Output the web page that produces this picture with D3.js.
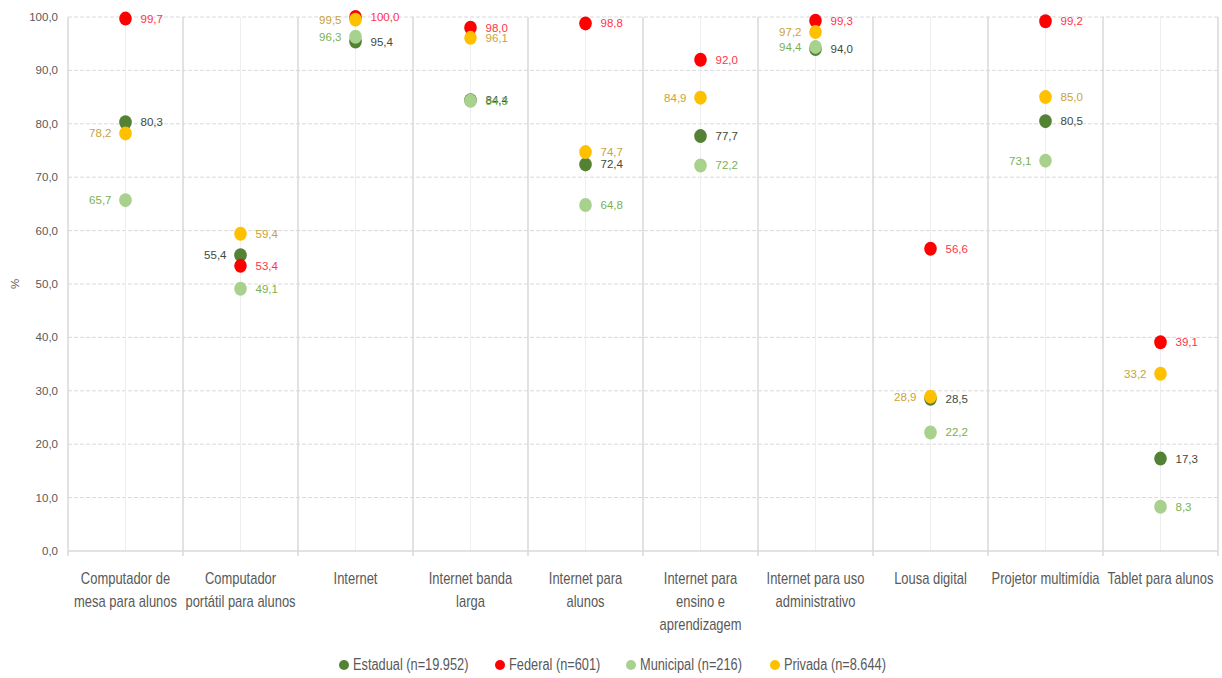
<!DOCTYPE html>
<html>
<head>
<meta charset="utf-8">
<script src="https://cdn.jsdelivr.net/npm/d3@7/dist/d3.min.js"></script>
<style>
body { margin: 0; background: #fff; }
svg { display: block; }
</style>
</head>
<body>
<svg id="chart" width="1222" height="678"></svg>
<script>
const categories = [
    "Computador de\nmesa para alunos",
    "Computador\nportátil para alunos",
    "Internet",
    "Internet banda\nlarga",
    "Internet para\nalunos",
    "Internet para\nensino e\naprendizagem",
    "Internet para uso\nadministrativo",
    "Lousa digital",
    "Projetor multimídia",
    "Tablet para alunos"
]

const seriesNames = ["Estadual (n=19.952)", "Federal (n=601)", "Municipal (n=216)", "Privada (n=8.644)"]

const estadual = [80.3, 55.4, 95.4, 84.4, 72.4, 77.7, 94.0, 28.5, 80.5, 17.3]
const federal = [99.7, 53.4, 100.0, 98.0, 98.8, 92.0, 99.3, 56.6, 99.2, 39.1]
const municipal = [65.7, 49.1, 96.3, 84.3, 64.8, 72.2, 94.4, 22.2, 73.1, 8.3]
const privada = [78.2, 59.4, 99.5, 96.1, 74.7, 84.9, 97.2, 28.9, 85.0, 33.2]

const yTicks = [0, 10, 20, 30, 40, 50, 60, 70, 80, 90, 100]

// which labels sit on the left of their dot: [series index, category index]
const leftLabels = [[2, 0], [3, 0], [0, 1], [2, 2], [3, 2], [3, 5], [2, 6], [3, 6], [3, 7], [2, 8], [3, 9]]

const dotColors = ["#548235", "#ff0000", "#a9d18e", "#ffc000"]
const labelColors = ["#3f4a3c", "#ff3347", "#79b152", "#c9a23a"]

const values = [estadual, federal, municipal, privada]

// no narrow font installed, so squeeze a regular one
const narrow = 0.82
const sans = "Liberation Sans, Arial, sans-serif"

const svg = d3.select("#chart")

const x = d3.scaleBand()
    .domain(d3.range(categories.length))
    .range([68, 1218])
    .padding(0)

const y = d3.scaleLinear()
    .domain([0, 100])
    .range([551, 17])

const fmt = v => d3.format(".1f")(v).replace(".", ",")

// horizontal gridlines
svg.append("g")
    .selectAll("line")
    .data(yTicks.filter(t => t > 0))
    .join("line")
        .attr("x1", x.range()[0])
        .attr("x2", x.range()[1])
        .attr("y1", d => y(d))
        .attr("y2", d => y(d))
        .attr("stroke", "#d9d9d9")
        .attr("stroke-width", 1)
        .attr("stroke-dasharray", "4,2")

// light lines through the category centres
svg.append("g")
    .selectAll("line")
    .data(d3.range(categories.length))
    .join("line")
        .attr("x1", d => x(d) + x.bandwidth() / 2)
        .attr("x2", d => x(d) + x.bandwidth() / 2)
        .attr("y1", y(100))
        .attr("y2", y(0))
        .attr("stroke", "#eeeeee")
        .attr("stroke-width", 1)

// category separators
svg.append("g")
    .selectAll("line")
    .data(d3.range(categories.length + 1))
    .join("line")
        .attr("x1", d => d < categories.length ? x(d) : x.range()[1])
        .attr("x2", d => d < categories.length ? x(d) : x.range()[1])
        .attr("y1", y(100))
        .attr("y2", y(0) + 5)
        .attr("stroke", "#d9d9d9")
        .attr("stroke-width", 1.5)

// baseline
svg.append("line")
    .attr("x1", x.range()[0])
    .attr("x2", x.range()[1])
    .attr("y1", y(0))
    .attr("y2", y(0))
    .attr("stroke", "#d9d9d9")
    .attr("stroke-width", 1.5)

// y tick labels
svg.append("g")
    .selectAll("text")
    .data(yTicks)
    .join("text")
        .attr("x", 58)
        .attr("y", d => y(d))
        .attr("dy", "0.35em")
        .attr("text-anchor", "end")
        .attr("font-family", sans)
        .attr("font-size", 11.5)
        .attr("fill", "#595959")
        .text(fmt)

svg.append("text")
    .attr("transform", `translate(19,${(y(0) + y(100)) / 2}) rotate(-90)`)
    .attr("text-anchor", "middle")
    .attr("font-family", sans)
    .attr("font-size", 11.5)
    .attr("fill", "#595959")
    .text("%")

// category labels
let cat = svg.append("g")
    .selectAll("text")
    .data(categories)
    .join("text")
        .attr("transform", (d, i) => `translate(${x(i) + x.bandwidth() / 2},0) scale(${narrow},1)`)
        .attr("text-anchor", "middle")
        .attr("font-family", sans)
        .attr("font-size", 15.8)
        .attr("fill", "#595959")
cat.selectAll("tspan")
    .data(d => d.split("\n"))
    .join("tspan")
        .attr("x", 0)
        .attr("y", (d, j) => 584 + j * 23)
        .text(d => d)

// points
let points = []
values.forEach((vals, s) => {
    vals.forEach((v, c) => {
        let left = leftLabels.some(p => p[0] == s && p[1] == c)
        points.push({s, c, v, left})
    })
})

let cx = d => x(d.c) + x.bandwidth() / 2

svg.append("g")
    .selectAll("ellipse")
    .data(points)
    .join("ellipse")
        .attr("cx", cx)
        .attr("cy", d => y(d.v))
        .attr("rx", 6.3)
        .attr("ry", 7)
        .attr("fill", d => dotColors[d.s])

svg.append("g")
    .selectAll("text")
    .data(points)
    .join("text")
        .attr("x", d => d.left ? cx(d) - 14 : cx(d) + 15)
        .attr("y", d => y(d.v))
        .attr("dy", "0.35em")
        .attr("text-anchor", d => d.left ? "end" : "start")
        .attr("font-family", sans)
        .attr("font-size", 11.5)
        .attr("fill", d => labelColors[d.s])
        .text(d => fmt(d.v))

// legend
let legendX = [344, 500, 631, 775]
let legend = svg.append("g")
    .selectAll("g")
    .data(seriesNames)
    .join("g")
        .attr("transform", (d, i) => `translate(${legendX[i]},665)`)
legend.append("circle")
    .attr("r", 5)
    .attr("fill", (d, i) => dotColors[i])
legend.append("text")
    .attr("transform", `translate(9,0) scale(${narrow},1)`)
    .attr("dy", "0.35em")
    .attr("font-family", sans)
    .attr("font-size", 15.6)
    .attr("fill", "#595959")
    .text(d => d)
</script>
</body>
</html>
